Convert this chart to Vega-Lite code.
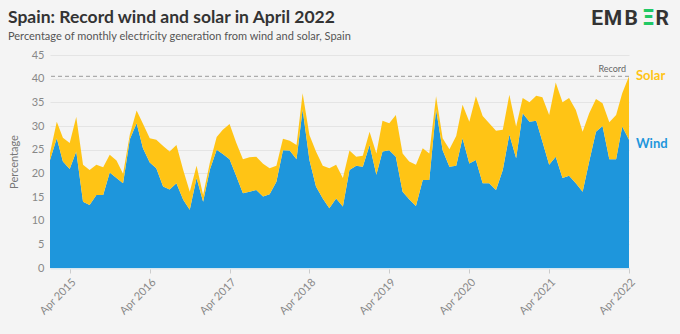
{
  "$schema": "https://vega.github.io/schema/vega-lite/v6.json",
  "width": 579,
  "height": 213,
  "autosize": "none",
  "padding": {"left": 50, "top": 55, "right": 51, "bottom": 66},
  "background": "#f4f4f4",
  "title": {
    "text": "Spain: Record wind and solar in April 2022",
    "subtitle": "Percentage of monthly electricity generation from wind and solar, Spain",
    "anchor": "start",
    "frame": "group",
    "dx": -42,
    "offset": -34,
    "font": "Lato",
    "fontSize": 17.5,
    "fontWeight": "bold",
    "color": "#333333",
    "subtitleFont": "Lato",
    "subtitleFontSize": 11,
    "subtitleColor": "#555555",
    "subtitlePadding": 4
  },
  "config": {
    "view": {"stroke": null},
    "font": "Lato",
    "axis": {"labelFont": "Lato", "titleFont": "Lato"}
  },
  "encoding": {
    "y": {
      "field": "value",
      "type": "quantitative",
      "scale": {"domain": [0, 45], "nice": false},
      "axis": {
        "title": "Percentage",
        "titleColor": "#777777",
        "titleFontSize": 11,
        "titleFontWeight": "normal",
        "titlePadding": 12,
        "values": [0, 5, 10, 15, 20, 25, 30, 35, 40, 45],
        "labelOverlap": false,
        "labelFontSize": 11,
        "labelColor": "#888888",
        "labelPadding": 6,
        "ticks": false,
        "domain": false,
        "gridColor": "#e4e4e4",
        "gridWidth": 1
      }
    }
  },
  "layer": [
    {
      "data": {
        "values": [
          {"month": "2015-01-01", "Wind": 22.8, "Solar": 1.5},
          {"month": "2015-02-01", "Wind": 27.4, "Solar": 3.5},
          {"month": "2015-03-01", "Wind": 22.5, "Solar": 5.0},
          {"month": "2015-04-01", "Wind": 20.9, "Solar": 5.5},
          {"month": "2015-05-01", "Wind": 24.6, "Solar": 7.3},
          {"month": "2015-06-01", "Wind": 14.0, "Solar": 7.8},
          {"month": "2015-07-01", "Wind": 13.3, "Solar": 7.4},
          {"month": "2015-08-01", "Wind": 15.4, "Solar": 6.4},
          {"month": "2015-09-01", "Wind": 15.4, "Solar": 5.9},
          {"month": "2015-10-01", "Wind": 20.2, "Solar": 3.7},
          {"month": "2015-11-01", "Wind": 19.0, "Solar": 3.7},
          {"month": "2015-12-01", "Wind": 17.9, "Solar": 2.0},
          {"month": "2016-01-01", "Wind": 27.2, "Solar": 1.0},
          {"month": "2016-02-01", "Wind": 30.6, "Solar": 2.7},
          {"month": "2016-03-01", "Wind": 25.3, "Solar": 5.2},
          {"month": "2016-04-01", "Wind": 22.3, "Solar": 5.1},
          {"month": "2016-05-01", "Wind": 21.1, "Solar": 6.0},
          {"month": "2016-06-01", "Wind": 17.2, "Solar": 8.6},
          {"month": "2016-07-01", "Wind": 16.6, "Solar": 8.0},
          {"month": "2016-08-01", "Wind": 17.9, "Solar": 8.1},
          {"month": "2016-09-01", "Wind": 14.4, "Solar": 6.3},
          {"month": "2016-10-01", "Wind": 12.3, "Solar": 3.8},
          {"month": "2016-11-01", "Wind": 19.0, "Solar": 2.6},
          {"month": "2016-12-01", "Wind": 14.0, "Solar": 1.4},
          {"month": "2017-01-01", "Wind": 20.8, "Solar": 1.5},
          {"month": "2017-02-01", "Wind": 25.0, "Solar": 2.7},
          {"month": "2017-03-01", "Wind": 24.1, "Solar": 5.1},
          {"month": "2017-04-01", "Wind": 23.0, "Solar": 7.4},
          {"month": "2017-05-01", "Wind": 19.5, "Solar": 7.0},
          {"month": "2017-06-01", "Wind": 15.8, "Solar": 7.2},
          {"month": "2017-07-01", "Wind": 16.1, "Solar": 7.3},
          {"month": "2017-08-01", "Wind": 16.5, "Solar": 7.0},
          {"month": "2017-09-01", "Wind": 15.1, "Solar": 6.9},
          {"month": "2017-10-01", "Wind": 15.6, "Solar": 5.5},
          {"month": "2017-11-01", "Wind": 18.2, "Solar": 3.4},
          {"month": "2017-12-01", "Wind": 24.9, "Solar": 2.4},
          {"month": "2018-01-01", "Wind": 24.8, "Solar": 2.1},
          {"month": "2018-02-01", "Wind": 23.0, "Solar": 3.0},
          {"month": "2018-03-01", "Wind": 33.5, "Solar": 3.4},
          {"month": "2018-04-01", "Wind": 22.8, "Solar": 5.3},
          {"month": "2018-05-01", "Wind": 17.2, "Solar": 7.4},
          {"month": "2018-06-01", "Wind": 14.7, "Solar": 6.9},
          {"month": "2018-07-01", "Wind": 12.6, "Solar": 8.5},
          {"month": "2018-08-01", "Wind": 14.7, "Solar": 7.1},
          {"month": "2018-09-01", "Wind": 13.0, "Solar": 6.0},
          {"month": "2018-10-01", "Wind": 20.7, "Solar": 4.1},
          {"month": "2018-11-01", "Wind": 21.6, "Solar": 1.9},
          {"month": "2018-12-01", "Wind": 21.4, "Solar": 2.3},
          {"month": "2019-01-01", "Wind": 26.0, "Solar": 2.8},
          {"month": "2019-02-01", "Wind": 19.7, "Solar": 4.5},
          {"month": "2019-03-01", "Wind": 24.6, "Solar": 6.5},
          {"month": "2019-04-01", "Wind": 24.9, "Solar": 5.7},
          {"month": "2019-05-01", "Wind": 23.5, "Solar": 8.8},
          {"month": "2019-06-01", "Wind": 16.1, "Solar": 8.1},
          {"month": "2019-07-01", "Wind": 14.5, "Solar": 8.0},
          {"month": "2019-08-01", "Wind": 13.1, "Solar": 8.7},
          {"month": "2019-09-01", "Wind": 18.6, "Solar": 6.7},
          {"month": "2019-10-01", "Wind": 18.6, "Solar": 5.6},
          {"month": "2019-11-01", "Wind": 33.5, "Solar": 2.8},
          {"month": "2019-12-01", "Wind": 24.9, "Solar": 2.5},
          {"month": "2020-01-01", "Wind": 21.4, "Solar": 3.7},
          {"month": "2020-02-01", "Wind": 21.6, "Solar": 6.3},
          {"month": "2020-03-01", "Wind": 27.4, "Solar": 7.1},
          {"month": "2020-04-01", "Wind": 22.1, "Solar": 8.8},
          {"month": "2020-05-01", "Wind": 22.8, "Solar": 13.5},
          {"month": "2020-06-01", "Wind": 17.9, "Solar": 14.2},
          {"month": "2020-07-01", "Wind": 17.9, "Solar": 12.7},
          {"month": "2020-08-01", "Wind": 16.5, "Solar": 12.5},
          {"month": "2020-09-01", "Wind": 20.7, "Solar": 8.5},
          {"month": "2020-10-01", "Wind": 28.2, "Solar": 8.4},
          {"month": "2020-11-01", "Wind": 23.2, "Solar": 6.7},
          {"month": "2020-12-01", "Wind": 32.7, "Solar": 3.2},
          {"month": "2021-01-01", "Wind": 30.9, "Solar": 4.1},
          {"month": "2021-02-01", "Wind": 31.1, "Solar": 5.3},
          {"month": "2021-03-01", "Wind": 26.7, "Solar": 9.4},
          {"month": "2021-04-01", "Wind": 21.8, "Solar": 10.5},
          {"month": "2021-05-01", "Wind": 23.5, "Solar": 15.7},
          {"month": "2021-06-01", "Wind": 19.0, "Solar": 16.0},
          {"month": "2021-07-01", "Wind": 19.5, "Solar": 16.4},
          {"month": "2021-08-01", "Wind": 17.9, "Solar": 15.5},
          {"month": "2021-09-01", "Wind": 16.1, "Solar": 12.7},
          {"month": "2021-10-01", "Wind": 22.5, "Solar": 10.2},
          {"month": "2021-11-01", "Wind": 28.8, "Solar": 6.9},
          {"month": "2021-12-01", "Wind": 30.0, "Solar": 4.8},
          {"month": "2022-01-01", "Wind": 23.0, "Solar": 7.8},
          {"month": "2022-02-01", "Wind": 23.0, "Solar": 9.3},
          {"month": "2022-03-01", "Wind": 29.9, "Solar": 7.0},
          {"month": "2022-04-01", "Wind": 27.1, "Solar": 13.4}
        ]
      },
      "transform": [{"fold": ["Wind", "Solar"], "as": ["source", "value"]}],
      "mark": {"type": "area", "interpolate": "linear"},
      "encoding": {
        "x": {
          "field": "month",
          "type": "temporal",
          "scale": {
            "type": "utc",
            "nice": false,
            "domain": [
              {"year": 2015, "month": 1, "date": 1, "utc": true},
              {"year": 2022, "month": 4, "date": 1, "utc": true}
            ]
          },
          "axis": {
            "title": null,
            "grid": false,
            "values": [
              {"year": 2015, "month": 4, "date": 1, "utc": true},
              {"year": 2016, "month": 4, "date": 1, "utc": true},
              {"year": 2017, "month": 4, "date": 1, "utc": true},
              {"year": 2018, "month": 4, "date": 1, "utc": true},
              {"year": 2019, "month": 4, "date": 1, "utc": true},
              {"year": 2020, "month": 4, "date": 1, "utc": true},
              {"year": 2021, "month": 4, "date": 1, "utc": true},
              {"year": 2022, "month": 4, "date": 1, "utc": true}
            ],
            "format": "%b %Y",
            "labelAngle": -45,
            "labelFontSize": 11,
            "labelColor": "#888888",
            "labelPadding": 3,
            "labelOverlap": false,
            "tickColor": "#cccccc",
            "tickSize": 5,
            "domainColor": "#d8e6ee",
            "domainWidth": 2
          }
        },
        "color": {
          "field": "source",
          "type": "nominal",
          "scale": {"domain": ["Wind", "Solar"], "range": ["#1e96dc", "#ffc415"]},
          "legend": null
        },
        "order": {"field": "source", "sort": "descending"}
      }
    },
    {
      "data": {"values": [{"value": 40.5}]},
      "mark": {"type": "rule", "strokeDash": [4, 3], "color": "#9a9a9a", "strokeWidth": 1},
      "encoding": {}
    },
    {
      "data": {"values": [{"month": "2022-04-01", "value": 40.5, "label": "Record"}]},
      "mark": {"type": "text", "align": "right", "baseline": "bottom", "dx": -3, "dy": -2, "fontSize": 9, "color": "#666666", "font": "Lato"},
      "encoding": {
        "x": {"field": "month", "type": "temporal"},
        "text": {"field": "label"}
      }
    },
    {
      "data": {"values": [
        {"month": "2022-04-01", "value": 40.5, "label": "Solar"},
        {"month": "2022-04-01", "value": 26.2, "label": "Wind"}
      ]},
      "mark": {"type": "text", "align": "left", "baseline": "middle", "dx": 7, "fontSize": 13, "fontWeight": "bold", "font": "Lato"},
      "encoding": {
        "x": {"field": "month", "type": "temporal"},
        "text": {"field": "label"},
        "color": {"field": "label", "type": "nominal", "scale": {"domain": ["Wind", "Solar"], "range": ["#1e96dc", "#ffc415"]}, "legend": null}
      }
    },
    {
      "data": {"values": [{"month": "2022-10-01", "value": 52.7, "label": "E"}]},
      "mark": {"type": "text", "align": "right", "baseline": "middle", "dx": -66, "fontSize": 21, "fontWeight": "bold", "font": "Roboto", "color": "#333333"},
      "encoding": {
        "x": {"field": "month", "type": "temporal"},
        "text": {"field": "label"}
      }
    },
    {
      "data": {"values": [{"month": "2022-10-01", "value": 52.7, "label": "M"}]},
      "mark": {"type": "text", "align": "right", "baseline": "middle", "dx": -47, "fontSize": 21, "fontWeight": "bold", "font": "Roboto", "color": "#333333"},
      "encoding": {
        "x": {"field": "month", "type": "temporal"},
        "text": {"field": "label"}
      }
    },
    {
      "data": {"values": [{"month": "2022-10-01", "value": 52.7, "label": "B"}]},
      "mark": {"type": "text", "align": "right", "baseline": "middle", "dx": -31, "fontSize": 21, "fontWeight": "bold", "font": "Roboto", "color": "#333333"},
      "encoding": {
        "x": {"field": "month", "type": "temporal"},
        "text": {"field": "label"}
      }
    },
    {
      "data": {"values": [{"month": "2022-10-01", "value": 52.7, "label": "Ξ"}]},
      "mark": {"type": "text", "align": "right", "baseline": "middle", "dx": -14, "fontSize": 21, "fontWeight": "bold", "font": "DejaVu Sans", "color": "#20c864"},
      "encoding": {
        "x": {"field": "month", "type": "temporal"},
        "text": {"field": "label"}
      }
    },
    {
      "data": {"values": [{"month": "2022-10-01", "value": 52.7, "label": "R"}]},
      "mark": {"type": "text", "align": "right", "baseline": "middle", "dx": 0, "fontSize": 21, "fontWeight": "bold", "font": "Roboto", "color": "#333333"},
      "encoding": {
        "x": {"field": "month", "type": "temporal"},
        "text": {"field": "label"}
      }
    }
  ]
}
